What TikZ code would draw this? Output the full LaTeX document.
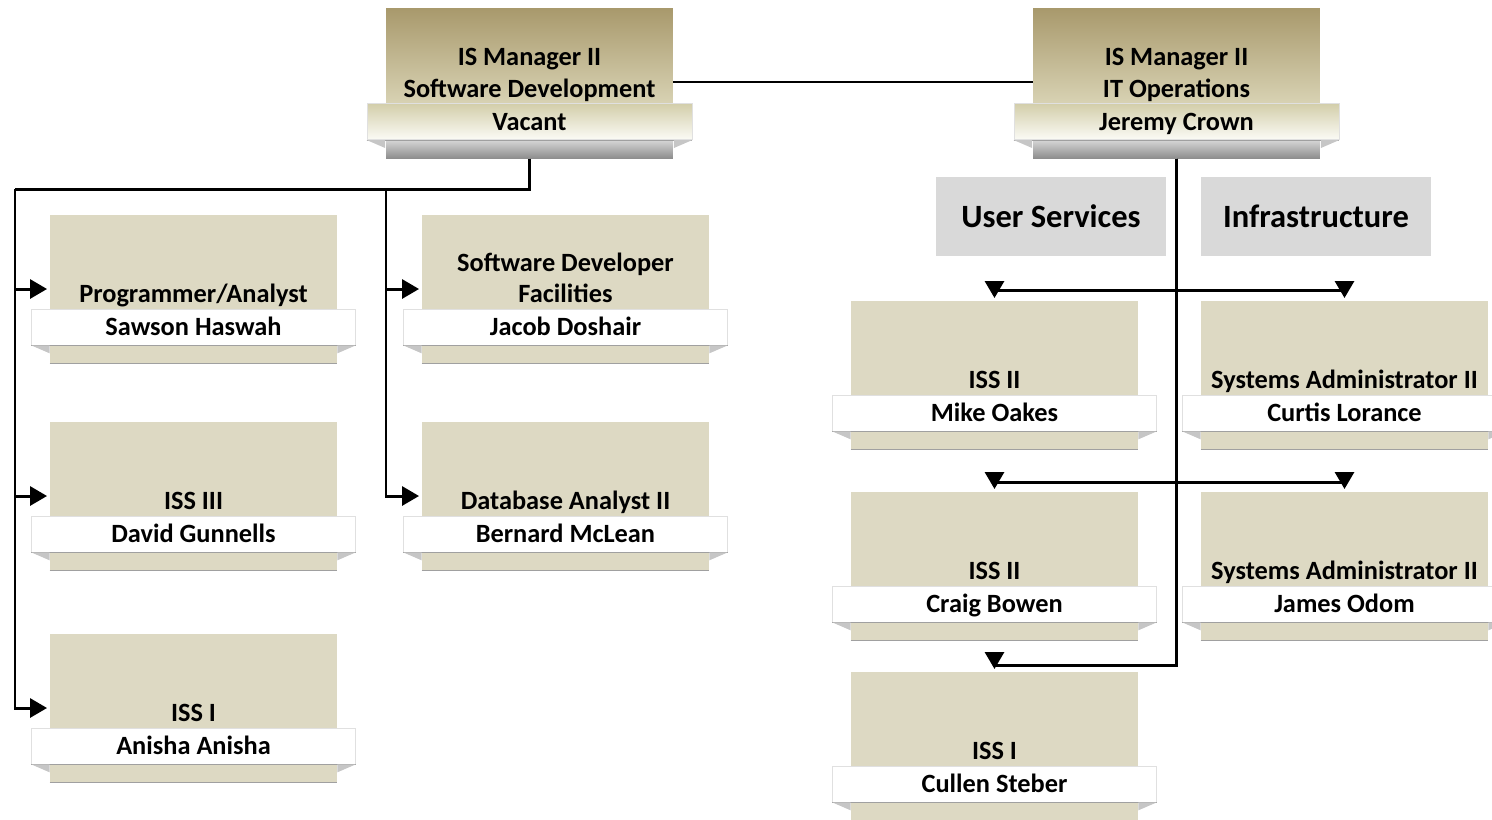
\documentclass[tikz,border=0pt]{standalone}
\usepackage{fontspec}
\setmainfont{Carlito}
\usepackage{tikz}
\usetikzlibrary{arrows.meta,positioning,calc}
\definecolor{tandark}{HTML}{A8996C}
\definecolor{tanlight}{HTML}{D8D2B3}
\definecolor{jobfill}{HTML}{DDD9C3}
\definecolor{bartop}{HTML}{D3CEAA}
\definecolor{barbot}{HTML}{FBFBF6}
\definecolor{basetop}{HTML}{D4D4D4}
\definecolor{basebot}{HTML}{8C8C8C}
\definecolor{catfill}{HTML}{D9D9D9}
\definecolor{foldgray}{HTML}{C6C6C6}
\definecolor{edgegray}{HTML}{A0A0A0}
\tikzset{
	%Define standard arrow tip
	>={Triangle[length=0.34cm,width=0.38cm]},
	%Define font for the labels
	lbl/.style={font=\bfseries\fontsize{15}{18}\selectfont, text=black},
	%Define style for the position boxes
	job/.style={
		rectangle,
		fill=jobfill,
		minimum width=5.74cm,
		minimum height=2.96cm,
		inner sep=0pt},
	namebar/.style={
		lbl,
		rectangle,
		fill=white,
		draw=black!12, line width=0.4pt,
		minimum width=6.48cm,
		minimum height=0.72cm,
		inner sep=0pt,
		text height=1.2em,
		text depth=0.2em},
	jobtitle/.style={lbl, align=center, inner sep=1pt, text depth=0.22em},
	%Define style for the manager boxes
	mgrtop/.style={
		rectangle,
		top color=tandark, bottom color=tanlight,
		minimum width=5.74cm,
		minimum height=1.9cm,
		inner sep=0pt},
	mgrbar/.style={namebar, top color=bartop, bottom color=barbot, minimum width=6.5cm},
	mgrbase/.style={
		rectangle,
		top color=basetop, bottom color=basebot,
		minimum width=5.74cm,
		minimum height=0.36cm,
		inner sep=0pt},
	%Define style for the group headers
	grp/.style={
		rectangle,
		fill=catfill,
		minimum width=4.6cm,
		minimum height=1.58cm,
		text=black,
		font=\bfseries\fontsize{18.5}{22}\selectfont},
	fold/.style={fill=foldgray},
	rim/.style={draw=edgegray, line width=0.6pt},
	% Define arrow style
	link/.style={line width=1.7pt},
	thinlink/.style={line width=1.2pt},
	pil/.style={
		->,
		line width=1.7pt,
		shorten >=1.5pt,}
}
\begin{document}
\begin{tikzpicture}[x=0.02cm,y=-0.02cm]
		\useasboundingbox (0,0) rectangle (1492,819);
		% node IS Manager Software Development
		\node[mgrtop] (sd) at (529.5,55.5) {};
		\node[mgrbar, below=0pt of sd] (sd-n) {Vacant};
		\node[mgrbase, below=0pt of sd-n] (sdbase) {};
		\node[jobtitle, above=0pt of sd-n] (sd-t) {IS Manager II\\Software Development};
		% node IS Manager IT Operations
		\node[mgrtop] (ops) at (1176.5,55.5) {};
		\node[mgrbar, below=0pt of ops] (ops-n) {Jeremy Crown};
		\node[mgrbase, below=0pt of ops-n] (opsbase) {};
		\node[jobtitle, above=0pt of ops-n] (ops-t) {IS Manager II\\IT Operations};
		% node Programmer/Analyst
		\node[job] (prog) at (193.5,289) {};
		\node[namebar, below=1.88cm of prog.north] (prog-n) {Sawson Haswah};
		\node[jobtitle, above=0pt of prog-n] (prog-t) {Programmer/Analyst};
		% node ISS III
		\node[job] (iss3) at (193.5,496) {};
		\node[namebar, below=1.88cm of iss3.north] (iss3-n) {David Gunnells};
		\node[jobtitle, above=0pt of iss3-n] (iss3-t) {ISS III};
		% node ISS I (left)
		\node[job] (iss1a) at (193.5,708) {};
		\node[namebar, below=1.88cm of iss1a.north] (iss1a-n) {Anisha Anisha};
		\node[jobtitle, above=0pt of iss1a-n] (iss1a-t) {ISS I};
		% node Software Developer
		\node[job] (swdev) at (565.5,289) {};
		\node[namebar, below=1.88cm of swdev.north] (swdev-n) {Jacob Doshair};
		\node[jobtitle, above=0pt of swdev-n] (swdev-t) {Software Developer\\Facilities};
		% node Database Analyst II
		\node[job] (dba) at (565.5,496) {};
		\node[namebar, below=1.88cm of dba.north] (dba-n) {Bernard McLean};
		\node[jobtitle, above=0pt of dba-n] (dba-t) {Database Analyst II};
		% node group headers
		\node[grp] (usrsvc) at (1051,216.5) {User Services};
		\node[grp] (infra) at (1316,216.5) {Infrastructure};
		% node ISS II Mike Oakes
		\node[job] (oakes) at (994.5,375) {};
		\node[namebar, below=1.88cm of oakes.north] (oakes-n) {Mike Oakes};
		\node[jobtitle, above=0pt of oakes-n] (oakes-t) {ISS II};
		% node Systems Administrator II Curtis Lorance
		\node[job] (curtis) at (1344.5,375) {};
		\node[namebar, below=1.88cm of curtis.north] (curtis-n) {Curtis Lorance};
		\node[jobtitle, above=0pt of curtis-n] (curtis-t) {Systems Administrator II};
		% node ISS II Craig Bowen
		\node[job] (bowen) at (994.5,566) {};
		\node[namebar, below=1.88cm of bowen.north] (bowen-n) {Craig Bowen};
		\node[jobtitle, above=0pt of bowen-n] (bowen-t) {ISS II};
		% node Systems Administrator II James Odom
		\node[job] (odom) at (1344.5,566) {};
		\node[namebar, below=1.88cm of odom.north] (odom-n) {James Odom};
		\node[jobtitle, above=0pt of odom-n] (odom-t) {Systems Administrator II};
		% node ISS I Cullen Steber
		\node[job] (steber) at (994.5,746) {};
		\node[namebar, below=1.88cm of steber.north] (steber-n) {Cullen Steber};
		\node[jobtitle, above=0pt of steber-n] (steber-t) {ISS I};
		% folds and rims of the boxes
		\foreach \n in {prog,iss3,iss1a,swdev,dba,oakes,curtis,bowen,odom,steber}{
			\draw[rim] (\n.south west) -- (\n.south east);
		}
		\foreach \n in {sd,ops,prog,iss3,iss1a,swdev,dba,oakes,curtis,bowen,odom,steber}{
			\draw[rim] (\n-n.south west) -- (\n-n.south east);
			\fill[fold] (\n-n.south west) -- ++(18.5,0) -- ++(0,8) -- cycle;
			\fill[fold] (\n-n.south east) -- ++(-18.5,0) -- ++(0,8) -- cycle;
		}
		% connectors Software Development
		\coordinate (lspine) at (15,189);
		\coordinate (mspine) at (386,189);
		\draw[link]  (sdbase.south) |- (lspine);
		\draw[pil]   (lspine) |- (prog.west);
		\draw[pil]   (lspine) |- (iss3.west);
		\draw[pil]   (lspine) |- (iss1a.west);
		\draw[pil]   (mspine) |- (swdev.west);
		\draw[pil]   (mspine) |- (dba.west);
		% connectors IT Operations
		\draw[thinlink] ([yshift=-0.53cm]sd.east) -- ([yshift=-0.53cm]ops.west);
		\draw[pil]   (opsbase.south) |- ([yshift=0.2cm]oakes.north) -- (oakes.north);
		\draw[pil]   (opsbase.south) |- ([yshift=0.2cm]curtis.north) -- (curtis.north);
		\draw[pil]   (opsbase.south) |- ([yshift=0.18cm]bowen.north) -- (bowen.north);
		\draw[pil]   (opsbase.south) |- ([yshift=0.18cm]odom.north) -- (odom.north);
		\draw[pil]   (opsbase.south) |- ([yshift=0.12cm]steber.north) -- (steber.north);
	\end{tikzpicture}
\end{document}
